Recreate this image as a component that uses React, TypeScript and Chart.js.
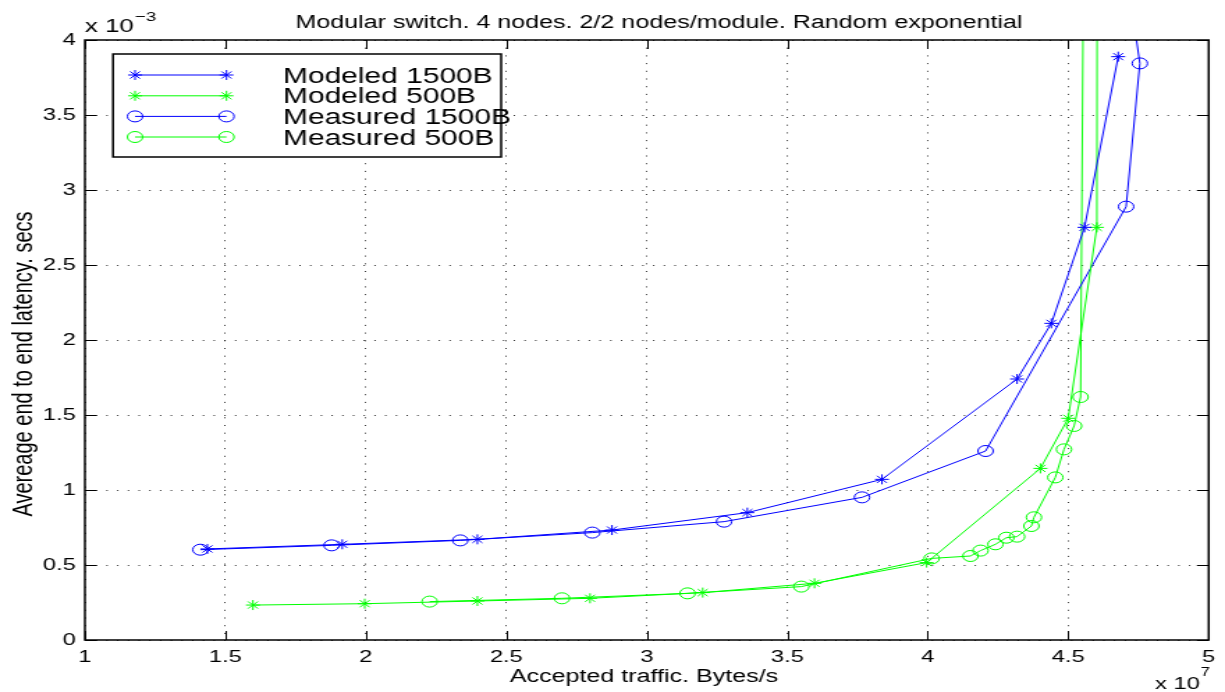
import React, { useEffect, useRef } from "react";
import { Chart, registerables } from "chart.js";

Chart.register(...registerables);

// ---- data (x in units of 1e7 Bytes/s, y in units of 1e-3 s) ----
const modeled1500X = [1.436, 1.916, 2.397, 2.876, 3.358, 3.837, 4.318, 4.44, 4.558, 4.678];
const modeled1500Y = [0.607, 0.638, 0.671, 0.733, 0.849, 1.071, 1.74, 2.111, 2.751, 3.889];

const modeled500X = [1.598, 1.996, 2.397, 2.798, 3.199, 3.597, 3.996, 4.401, 4.5, 4.602, 4.604];
const modeled500Y = [0.233, 0.242, 0.26, 0.278, 0.316, 0.378, 0.516, 1.144, 1.478, 2.751, 6.0];

const measured1500X = [1.411, 1.878, 2.336, 2.806, 3.275, 3.766, 4.206, 4.706, 4.755, 4.72];
const measured1500Y = [0.602, 0.631, 0.664, 0.716, 0.789, 0.951, 1.26, 2.889, 3.844, 4.3];

const measured500X = [2.227, 2.698, 3.145, 3.55, 4.014, 4.152, 4.188, 4.241, 4.28, 4.318, 4.369, 4.378, 4.454, 4.485, 4.521, 4.544, 4.556];
const measured500Y = [0.256, 0.278, 0.311, 0.356, 0.544, 0.56, 0.596, 0.638, 0.682, 0.689, 0.76, 0.818, 1.084, 1.271, 1.427, 1.62, 5.0];

const seriesLabels = ["Modeled 1500B", "Modeled 500B", "Measured 1500B", "Measured 500B"];

const xTickValues = [1, 1.5, 2, 2.5, 3, 3.5, 4, 4.5, 5];
const xTickLabels = ["1", "1.5", "2", "2.5", "3", "3.5", "4", "4.5", "5"];
const yTickValues = [0, 0.5, 1, 1.5, 2, 2.5, 3, 3.5, 4];
const yTickLabels = ["0", "0.5", "1", "1.5", "2", "2.5", "3", "3.5", "4"];

const titleText = "Modular switch. 4 nodes. 2/2 nodes/module. Random exponential";
const xAxisTitle = "Accepted traffic. Bytes/s";
const yAxisTitle = "Avereage end to end latency. secs";

// ---- layout / style ----
const CW = 880; // canvas drawing width (stretched horizontally to 1225 by CSS)
const CH = 692;
const FONT = '"Liberation Sans", Arial, Helvetica, sans-serif';
const BLUE = "#0000ff";
const GREEN = "#00ff00";

const pts = (xs: number[], ys: number[]) => xs.map((x, i) => ({ x, y: ys[i] }));

function drawMarker(ctx: CanvasRenderingContext2D, style: string, x: number, y: number, r: number) {
  ctx.beginPath();
  if (style === "circle") {
    ctx.arc(x, y, r, 0, Math.PI * 2);
  } else {
    for (let k = 0; k < 4; k++) {
      const a = (k * Math.PI) / 4;
      const dx = Math.cos(a) * r;
      const dy = Math.sin(a) * r;
      ctx.moveTo(x - dx, y - dy);
      ctx.lineTo(x + dx, y + dy);
    }
  }
  ctx.stroke();
}

const decorPlugin = {
  id: "decor",
  beforeDraw(chart: any) {
    const ctx = chart.ctx as CanvasRenderingContext2D;
    ctx.save();
    ctx.fillStyle = "#fff";
    ctx.fillRect(0, 0, chart.width, chart.height);
    ctx.restore();
  },
  afterDraw(chart: any) {
    const ctx = chart.ctx as CanvasRenderingContext2D;
    const a = chart.chartArea;
    const xs = chart.scales.x;
    const ys = chart.scales.y;
    ctx.save();
    ctx.strokeStyle = "#000";
    ctx.lineWidth = 1;
    // inner tick marks on all four sides
    ctx.beginPath();
    xTickValues.forEach((v) => {
      const px = Math.round(xs.getPixelForValue(v)) + 0.5;
      ctx.moveTo(px, a.bottom);
      ctx.lineTo(px, a.bottom - 9);
      ctx.moveTo(px, a.top);
      ctx.lineTo(px, a.top + 9);
    });
    yTickValues.forEach((v) => {
      const py = Math.round(ys.getPixelForValue(v)) + 0.5;
      ctx.moveTo(a.left, py);
      ctx.lineTo(a.left + 8.5, py);
      ctx.moveTo(a.right, py);
      ctx.lineTo(a.right - 8.5, py);
    });
    ctx.stroke();
    // axes box
    ctx.lineWidth = 1.5;
    ctx.strokeRect(a.left, a.top, a.right - a.left, a.bottom - a.top);

    // title
    ctx.fillStyle = "#000";
    ctx.textBaseline = "alphabetic";
    ctx.textAlign = "center";
    ctx.font = `18px ${FONT}`;
    ctx.fillText(titleText, 473.4, 27.5);

    // x axis title
    ctx.font = `18px ${FONT}`;
    ctx.fillText(xAxisTitle, 462.6, 681.5);

    // exponent labels
    ctx.textAlign = "left";
    ctx.font = `18.5px ${FONT}`;
    const topBase = "x 10";
    ctx.fillText(topBase, a.left, 31.5);
    let w = ctx.measureText(topBase).width;
    ctx.font = `13.5px ${FONT}`;
    ctx.fillText("\u22123", a.left + w + 1, 20.5);

    ctx.font = `17px ${FONT}`;
    ctx.fillText(topBase, 829.8, 689);
    w = ctx.measureText(topBase).width;
    ctx.font = `12px ${FONT}`;
    ctx.fillText("7", 829.8 + w + 0.5, 676);

    // y axis title
    ctx.save();
    ctx.translate(17.5, 364);
    ctx.rotate(-Math.PI / 2);
    ctx.textAlign = "center";
    ctx.textBaseline = "middle";
    ctx.font = `20px ${FONT}`;
    ctx.fillText(yAxisTitle, 0, 0);
    ctx.restore();

    // legend
    const lx0 = 81.2, lx1 = 360, ly0 = 54, ly1 = 157;
    ctx.fillStyle = "#fff";
    ctx.fillRect(lx0, ly0, lx1 - lx0, ly1 - ly0);
    ctx.lineWidth = 1.5;
    ctx.strokeStyle = "#000";
    ctx.strokeRect(lx0, ly0, lx1 - lx0, ly1 - ly0);
    const rowY = [75, 95.8, 116.4, 137];
    const colors = [BLUE, GREEN, BLUE, GREEN];
    const styles = ["star", "star", "circle", "circle"];
    seriesLabels.forEach((label, i) => {
      const y = rowY[i];
      ctx.strokeStyle = colors[i];
      ctx.lineWidth = 1;
      ctx.beginPath();
      ctx.moveTo(97, y);
      ctx.lineTo(162.7, y);
      ctx.stroke();
      drawMarker(ctx, styles[i], 97, y, styles[i] === "circle" ? 5.5 : 5);
      drawMarker(ctx, styles[i], 162.7, y, styles[i] === "circle" ? 5.5 : 5);
      ctx.fillStyle = "#000";
      ctx.font = `21.5px ${FONT}`;
      ctx.textAlign = "left";
      ctx.textBaseline = "alphabetic";
      ctx.fillText(label, 203.3, y + 7.5);
    });
    ctx.restore();
  },
};

function makeDataset(label: string, data: { x: number; y: number }[], color: string, style: string) {
  return {
    label,
    data,
    borderColor: color,
    backgroundColor: "transparent",
    borderWidth: 1,
    pointStyle: style,
    pointRadius: style === "circle" ? 5.5 : 5,
    pointBorderColor: color,
    pointBackgroundColor: "transparent",
    pointBorderWidth: 1,
    tension: 0,
    fill: false,
    clip: 0,
  };
}

export default function App() {
  const ref = useRef<HTMLCanvasElement>(null);
  useEffect(() => {
    const canvas = ref.current;
    if (!canvas) return;
    const gridOpts = { color: "rgba(0,0,0,0.8)", lineWidth: 1, drawTicks: false };
    const chart = new Chart(canvas, {
      type: "line",
      data: {
        datasets: [
          makeDataset(seriesLabels[0], pts(modeled1500X, modeled1500Y), BLUE, "star"),
          makeDataset(seriesLabels[1], pts(modeled500X, modeled500Y), GREEN, "star"),
          makeDataset(seriesLabels[2], pts(measured1500X, measured1500Y), BLUE, "circle"),
          makeDataset(seriesLabels[3], pts(measured500X, measured500Y), GREEN, "circle"),
        ] as any,
      },
      options: {
        responsive: false,
        devicePixelRatio: 1,
        animation: false,
        events: [],
        layout: { padding: { top: 40, right: 8.6, left: 0, bottom: 0 } },
        plugins: {
          legend: { display: false },
          title: { display: false },
          tooltip: { enabled: false },
        },
        scales: {
          x: {
            type: "linear",
            min: 1,
            max: 5,
            afterBuildTicks: (s: any) => {
              s.ticks = xTickValues.map((v) => ({ value: v }));
            },
            afterFit: (s: any) => {
              s.height = 52;
            },
            ticks: {
              autoSkip: false,
              maxRotation: 0,
              padding: 7,
              color: "#000",
              font: { family: FONT, size: 17 },
              callback: (_v: any, i: number) => xTickLabels[i],
            },
            grid: gridOpts,
            border: { display: false, dash: [1, 6.7] },
          },
          y: {
            type: "linear",
            min: 0,
            max: 4,
            afterBuildTicks: (s: any) => {
              s.ticks = yTickValues.map((v) => ({ value: v }));
            },
            afterFit: (s: any) => {
              s.width = 61;
            },
            ticks: {
              autoSkip: false,
              padding: 6.5,
              color: "#000",
              font: { family: FONT, size: 17 },
              callback: (_v: any, i: number) => yTickLabels[i],
            },
            grid: gridOpts,
            border: { display: false, dash: [1, 6.7] },
          },
        },
      } as any,
      plugins: [decorPlugin],
    });
    return () => chart.destroy();
  }, []);

  return (
    <div style={{ position: "fixed", left: 0, top: 0, width: 1225, height: 692, background: "#fff" }}>
      <canvas
        ref={ref}
        width={CW}
        height={CH}
        style={{ width: "1225px", height: "692px", display: "block" }}
      />
    </div>
  );
}
